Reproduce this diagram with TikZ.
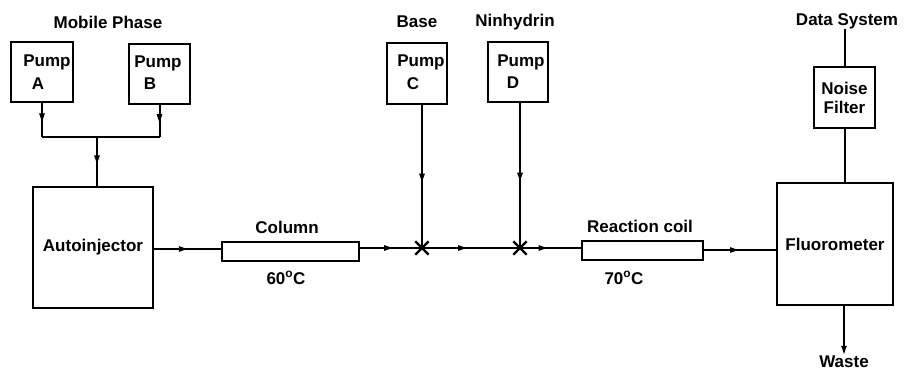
\documentclass[tikz,border=0pt]{standalone}
\usepackage{fontspec}
\setmainfont{Liberation Sans}
\usetikzlibrary{decorations.markings,shapes.misc,arrows.meta}
\begin{document}
\begin{tikzpicture}[x=1pt,y=-1pt,
  every node/.style={font=\fontsize{17}{19}\selectfont\bfseries},
  box/.style={draw, line width=2pt, inner sep=0pt},
  txt/.style={inner sep=0pt},
  flow/.style={line width=2pt},
  midarrow/.style={flow, postaction={decorate}, decoration={markings,
      mark=at position #1 with {\arrow[line width=1pt]{Latex[length=10pt,width=6pt]}}}},
  xmark/.style={draw, cross out, line width=2.4pt, minimum size=11pt, inner sep=0pt}
]
\useasboundingbox (0,0) rectangle (905,374);

% labels above
\node[txt] (mp) at (108,22) {Mobile Phase};
\node[txt] (base) at (417,22) {Base};
\node[txt] (nin) at (515,22) {Ninhydrin};
\node[txt] (ds) at (847,21) {Data System};

% pumps
\node[box, minimum width=62pt, minimum height=60pt] (pA) at (42,72) {};
\node[txt] (pAt1) at (47,62) {Pump};
\node[txt] (pAt2) at (38,84) {A};
\node[box, minimum width=61pt, minimum height=60pt] (pB) at (159.5,74) {};
\node[txt] (pBt1) at (158,63) {Pump};
\node[txt] (pBt2) at (150,84) {B};
\node[box, minimum width=60pt, minimum height=61pt] (pC) at (417,73.5) {};
\node[txt] (pCt1) at (421,62) {Pump};
\node[txt] (pCt2) at (413,84) {C};
\node[box, minimum width=60pt, minimum height=60pt] (pD) at (518,72) {};
\node[txt] (pDt1) at (521,62) {Pump};
\node[txt] (pDt2) at (513,83) {D};

% main units
\node[box, minimum width=120pt, minimum height=121pt] (auto) at (93,247.5) {Autoinjector};
\node[box, minimum width=137pt, minimum height=18pt] (col) at (290.5,251.5) {};
\node[txt] (colt) at (287,227) {Column};
\node[txt] (colT) at (286,278) {60\textsuperscript{o}C};
\node[box, minimum width=121pt, minimum height=18pt] (coil) at (642.5,250.5) {};
\node[txt] (coilt) at (640,226) {Reaction coil};
\node[txt] (coilT) at (624,278) {70\textsuperscript{o}C};
\node[box, minimum width=116pt, minimum height=122pt] (fl) at (835,244) {Fluorometer};
\node[box, minimum width=61pt, minimum height=61pt, align=center] (nf) at (844.5,97.5) {Noise\\Filter};
\node[txt] (waste) at (844,362) {Waste};

% mixing tees
\node[xmark] (x1) at (422,248) {};
\node[xmark] (x2) at (520,248) {};

% junction of pumps A and B
\coordinate (j) at (97,137);
\draw[midarrow=0.6] (pA.south) -- (pA.south |- j);
\draw[midarrow=0.6] (pB.south) -- (pB.south |- j);
\draw[flow] (pA.south |- j) -- (pB.south |- j);
\draw[midarrow=0.58] (j) -- (j |- auto.north);

% main flow line
\draw[midarrow=0.52] (auto.east |- 0,249) -- (col.west |- 0,249);
\draw[midarrow=0.55] (col.east |- x1) -- (x1.center);
\draw[midarrow=0.47] (x1.center) -- (x2.center);
\draw[midarrow=0.47] (x2.center) -- (coil.west |- x2);
\draw[midarrow=0.5] (coil.east |- 0,250) -- (fl.west |- 0,250);

% reagent pumps
\draw[midarrow=0.55] (pC.south -| x1) -- (x1.center);
\draw[midarrow=0.55] (pD.south -| x2) -- (x2.center);

% detector side
\draw[flow] (nf.north) -- (nf.north |- ds.south);
\draw[flow] (nf.south) -- (nf.south |- fl.north);
\draw[flow, -{Latex[length=10pt,width=6pt]}] (fl.south -| waste) -- (waste.north);
\end{tikzpicture}
\end{document}
